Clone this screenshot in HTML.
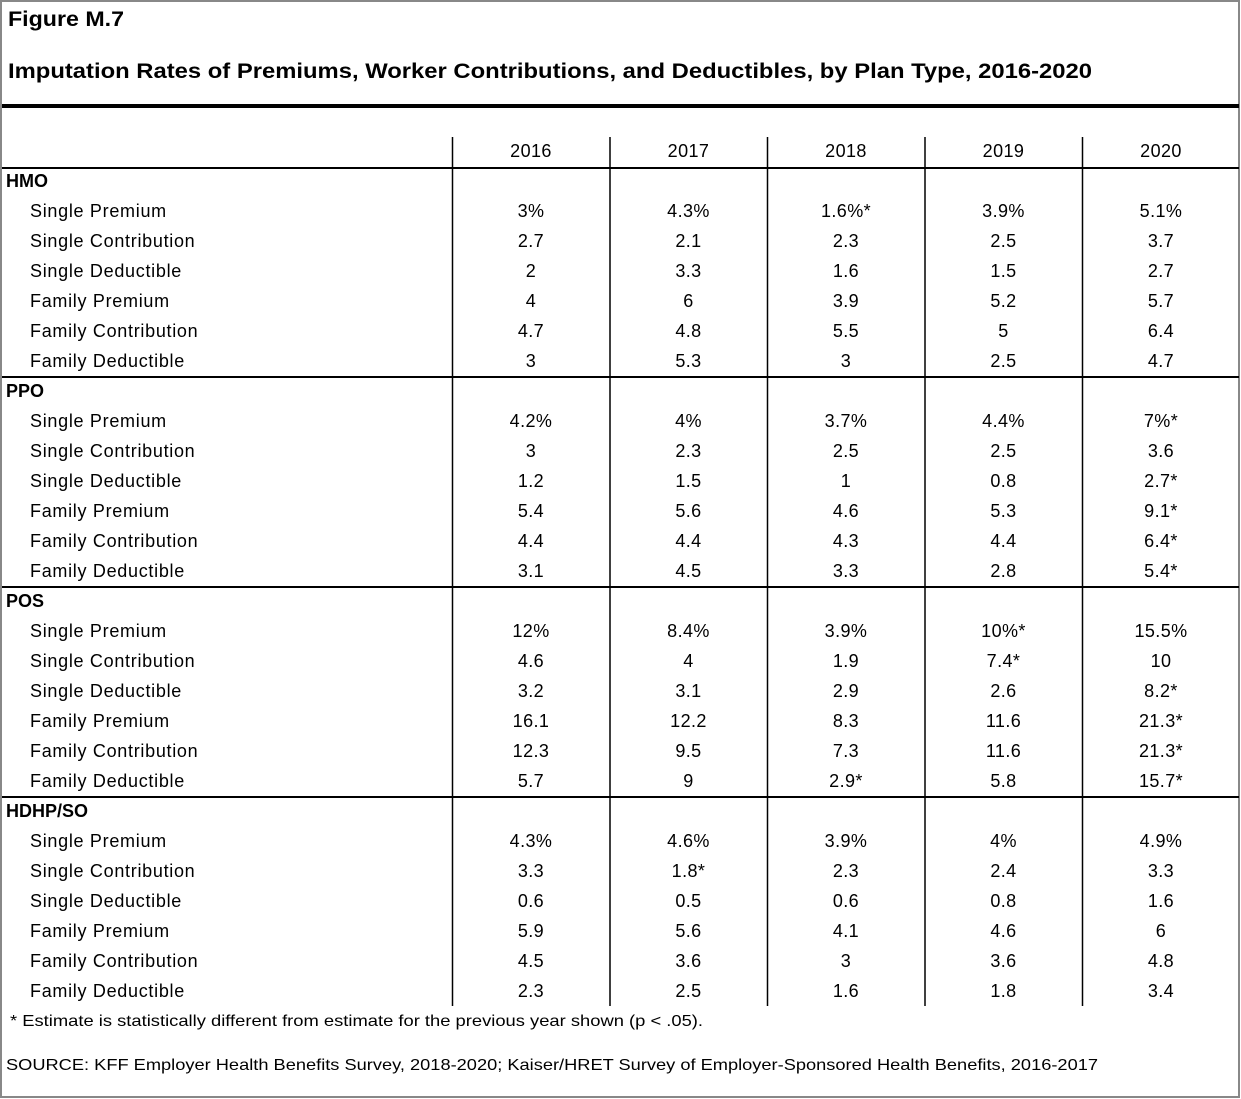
<!DOCTYPE html>
<html><head><meta charset="utf-8"><style>
html,body{margin:0;padding:0;background:#fff}
svg{display:block;font-family:"Liberation Sans",Arial,sans-serif}
</style></head><body>
<svg id="fig" width="1241" height="1099" viewBox="0 0 1241 1099" xmlns="http://www.w3.org/2000/svg">
<rect x="1" y="1" width="1238" height="1096" fill="#fff" stroke="#888" stroke-width="2"/>
<text x="8" y="26" font-size="21" font-weight="bold" textLength="116" lengthAdjust="spacingAndGlyphs">Figure M.7</text>
<text x="8" y="78" font-size="21" font-weight="bold" textLength="1084" lengthAdjust="spacingAndGlyphs">Imputation Rates of Premiums, Worker Contributions, and Deductibles, by Plan Type, 2016-2020</text>
<rect x="2" y="104" width="1237" height="4" fill="#000"/>
<g id="tbl"></g>
<text x="10" y="1026" font-size="16" textLength="693" lengthAdjust="spacingAndGlyphs">* Estimate is statistically different from estimate for the previous year shown (p &lt; .05).</text>
<text x="6" y="1070" font-size="16" textLength="1092" lengthAdjust="spacingAndGlyphs">SOURCE: KFF Employer Health Benefits Survey, 2018-2020; Kaiser/HRET Survey of Employer-Sponsored Health Benefits, 2016-2017</text>
</svg>
<script>
const years = ["2016","2017","2018","2019","2020"];
const groups = ["HMO","PPO","POS","HDHP/SO"];
const rowLabels = ["Single Premium","Single Contribution","Single Deductible","Family Premium","Family Contribution","Family Deductible"];
const hmoValues = [["3%","4.3%","1.6%*","3.9%","5.1%"],["2.7","2.1","2.3","2.5","3.7"],["2","3.3","1.6","1.5","2.7"],["4","6","3.9","5.2","5.7"],["4.7","4.8","5.5","5","6.4"],["3","5.3","3","2.5","4.7"]];
const ppoValues = [["4.2%","4%","3.7%","4.4%","7%*"],["3","2.3","2.5","2.5","3.6"],["1.2","1.5","1","0.8","2.7*"],["5.4","5.6","4.6","5.3","9.1*"],["4.4","4.4","4.3","4.4","6.4*"],["3.1","4.5","3.3","2.8","5.4*"]];
const posValues = [["12%","8.4%","3.9%","10%*","15.5%"],["4.6","4","1.9","7.4*","10"],["3.2","3.1","2.9","2.6","8.2*"],["16.1","12.2","8.3","11.6","21.3*"],["12.3","9.5","7.3","11.6","21.3*"],["5.7","9","2.9*","5.8","15.7*"]];
const hdhpValues = [["4.3%","4.6%","3.9%","4%","4.9%"],["3.3","1.8*","2.3","2.4","3.3"],["0.6","0.5","0.6","0.8","1.6"],["5.9","5.6","4.1","4.6","6"],["4.5","3.6","3","3.6","4.8"],["2.3","2.5","1.6","1.8","3.4"]];
const allValues = [hmoValues, ppoValues, posValues, hdhpValues];

const NS = "http://www.w3.org/2000/svg";
const g = document.getElementById("tbl");
const colX = i => 531 + i * 157.5;
const sepX = i => 452 + i * 157.5;
const rowY = 30;
function mk(tag, attrs){const e=document.createElementNS(NS,tag);for(const k in attrs)e.setAttribute(k,attrs[k]);g.appendChild(e);return e;}
function txt(x,y,s,opts){const t=mk("text",Object.assign({x:x,y:y,"font-size":18},opts||{}));t.textContent=s;return t;}

for(let i=0;i<5;i++){
  const l=mk("line",{x1:sepX(i)+0.5,x2:sepX(i)+0.5,y1:137,y2:1006,stroke:"#000","stroke-width":1.5});
  
  
}
years.forEach((y,i)=>{
  const t=txt(colX(i),157,y,{"text-anchor":"middle","letter-spacing":"0.4"});
  
  
});
const hl=mk("rect",{x:2,y:167,width:1237,height:2,fill:"#000"});



groups.forEach((gr,gi)=>{
  const top = 181 + gi*210;
  if(gi>0){
    const r=mk("rect",{x:2,y:top-15,width:1237,height:2,fill:"#000"});
    
    
  }
  const h=txt(6,top+6,gr,{"font-weight":"bold"});
  
  
  rowLabels.forEach((lab,ri)=>{
    const y = top + (ri+1)*rowY + 6;
    const l=txt(30,y,lab,{"letter-spacing":"0.7"});
    
    
    allValues[gi][ri].forEach((v,ci)=>{
      const c=txt(colX(ci),y,v,{"text-anchor":"middle","letter-spacing":"0.4"});
      
      
    });
  });
});
</script>
</body></html>
